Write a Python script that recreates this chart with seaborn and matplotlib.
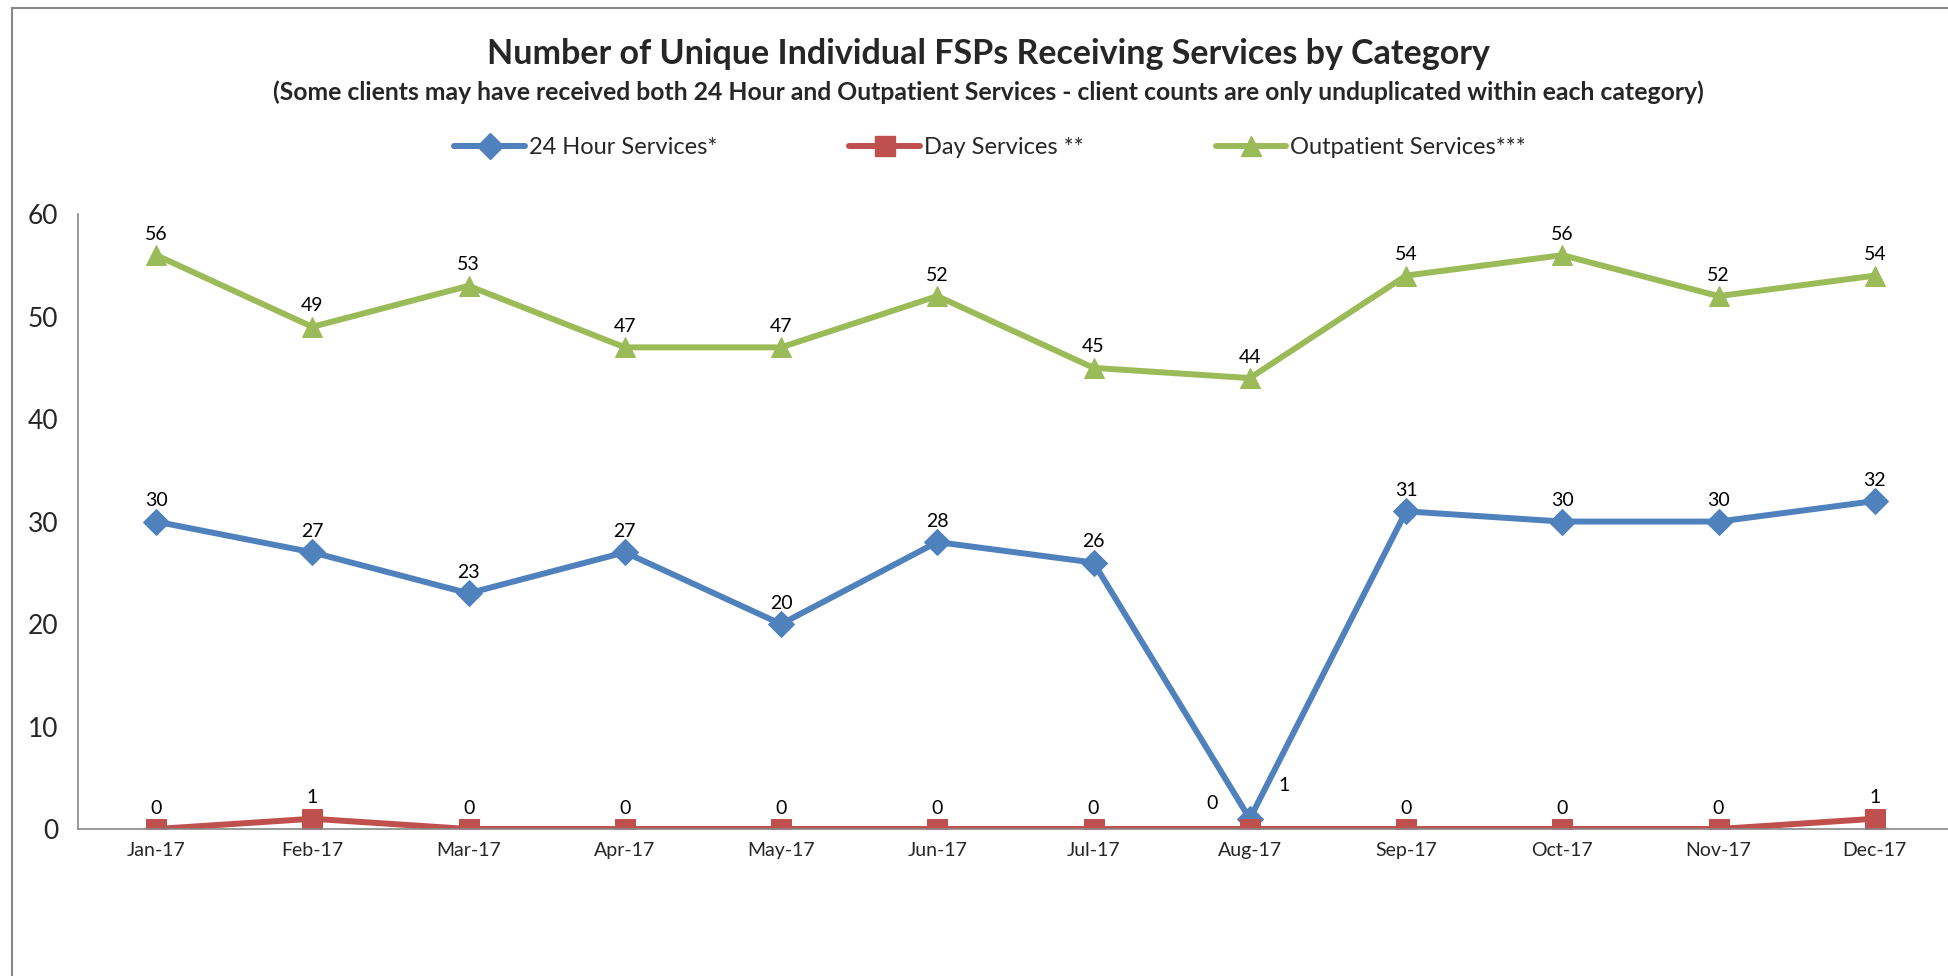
import pandas as pd
import matplotlib
matplotlib.use("Agg")
import matplotlib.pyplot as plt
from matplotlib.lines import Line2D
from matplotlib.patches import Rectangle
import seaborn as sns

sns.set_theme(style="white")
plt.rcParams['font.family'] = ['Lato', 'DejaVu Sans']

# Data
months = ["Jan-17", "Feb-17", "Mar-17", "Apr-17", "May-17", "Jun-17",
          "Jul-17", "Aug-17", "Sep-17", "Oct-17", "Nov-17", "Dec-17"]
hour24 = [30, 27, 23, 27, 20, 28, 26, 1, 31, 30, 30, 32]
day_svc = [0, 1, 0, 0, 0, 0, 0, 0, 0, 0, 0, 1]
outpatient = [56, 49, 53, 47, 47, 52, 45, 44, 54, 56, 52, 54]

series_names = ["24 Hour Services*", "Day Services **", "Outpatient Services***"]
series_values = [hour24, day_svc, outpatient]
colors = ["#4F81BD", "#C0504D", "#9BBB59"]
markers = ["D", "s", "^"]
marker_sizes = [13, 14, 15]

rows = []
for name, vals in zip(series_names, series_values):
    for i, v in enumerate(vals):
        rows.append({"idx": i, "month": months[i], "value": v, "series": name})
df = pd.DataFrame(rows)

fig = plt.figure(figsize=(19.49, 9.76), dpi=100)
ax = fig.add_axes([0.040, 0.1506, 0.962, 0.630])

for name, col, mk, ms in zip(series_names, colors, markers, marker_sizes):
    sub = df[df["series"] == name]
    sns.lineplot(data=sub, x="idx", y="value", ax=ax, color=col, lw=4.3,
                 marker=mk, markersize=ms, markeredgecolor=col, legend=False)

# data labels
for si, (name, vals) in enumerate(zip(series_names, series_values)):
    for i, v in enumerate(vals):
        dx, dy = 0, 9
        if months[i] == "Aug-17" and si == 0:
            dx, dy = 25, 18
        elif months[i] == "Aug-17" and si == 1:
            dx, dy = -27, 12
        ax.annotate(str(v), (i, v), xytext=(dx, dy), textcoords="offset points",
                    ha="center", va="bottom", fontsize=14, color="black")

ax.set_xlim(-0.5, len(months) - 0.5)
ax.set_ylim(0, 60)
ax.set_yticks(range(0, 61, 10))
ax.set_xticks(range(len(months)))
ax.set_xticklabels(months, fontsize=14)
ax.set_xticks([i + 0.5 for i in range(-1, len(months))], minor=True)
ax.tick_params(axis="x", which="major", length=0, pad=9)
ax.tick_params(axis="x", which="minor", length=6, color="#888888", direction="in")
ax.tick_params(axis="y", length=6, color="#888888", direction="out", labelsize=19, pad=8)
ax.set_xlabel("")
ax.set_ylabel("")
for s in ["top", "right"]:
    ax.spines[s].set_visible(False)
for s in ["left", "bottom"]:
    ax.spines[s].set_color("#888888")
    ax.spines[s].set_linewidth(1.2)
ax.grid(False)

fig.text(0.507, 0.945, "Number of Unique Individual FSPs Receiving Services by Category",
         ha="center", va="center", fontsize=24.5, fontweight="bold")
fig.text(0.507, 0.906, "(Some clients may have received both 24 Hour and Outpatient Services - "
         "client counts are only unduplicated within each category)",
         ha="center", va="center", fontsize=17.8, fontweight="bold")

handles = [Line2D([0], [0], color=c, lw=4.3, marker=m, markersize=ms, markeredgecolor=c)
           for c, m, ms in zip(colors, markers, marker_sizes)]
fig.legend(handles, series_names, loc="center", bbox_to_anchor=(0.508, 0.849), ncol=3,
           frameon=False, fontsize=17, handlelength=3.0, handletextpad=0.15,
           columnspacing=5.6)

# outer chart border
fig.patches.append(Rectangle((0.006, -0.1), 1.2, 1.092, transform=fig.transFigure,
                             fill=False, edgecolor="#888888", lw=1.5))

fig.savefig("out.png", dpi=100)
